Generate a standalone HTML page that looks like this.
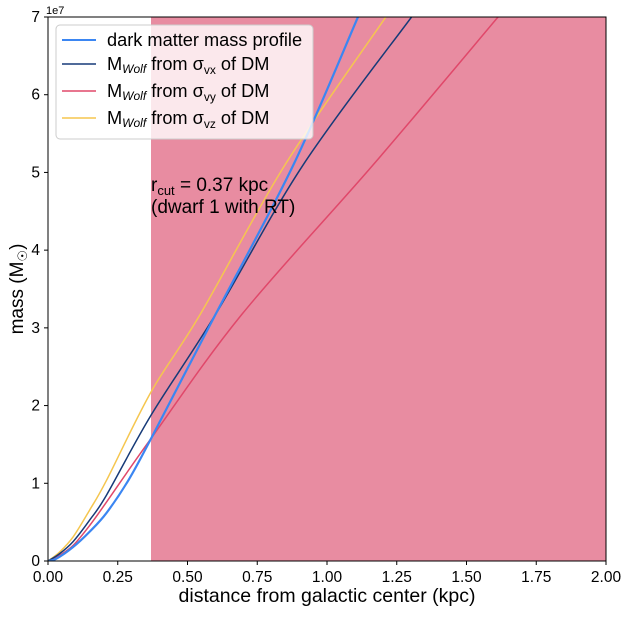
<!DOCTYPE html>
<html><head><meta charset="utf-8"><style>
body{margin:0;background:#fff;font-family:"Liberation Sans",sans-serif}
svg text{font-family:"Liberation Sans","DejaVu Sans",sans-serif}
</style></head><body>
<svg id="chart" width="629" height="612">
<rect x="151" y="17" width="455" height="544" fill="#e88ca1"/>
<g id="lines"></g>
<rect x="48" y="17" width="558" height="544" fill="none" stroke="#000" stroke-width="1"/>
<g id="ticks"></g>
<text x="46" y="14" font-size="11">1e7</text>
<text x="327" y="602" font-size="19.5" text-anchor="middle">distance from galactic center (kpc)</text>
<text transform="translate(23,289) rotate(-90)" font-size="19" text-anchor="middle">mass (M<tspan font-size="13" dy="4">☉</tspan><tspan dy="-4">)</tspan></text>
<text x="151" y="191" font-size="19">r<tspan font-size="13" dy="4">cut</tspan><tspan dy="-4"> = 0.37 kpc</tspan></text>
<text x="151" y="213" font-size="19">(dwarf 1 with RT)</text>
<g>
<rect x="56" y="25" width="257" height="114" rx="4" fill="#fff" fill-opacity="0.8" stroke="#ccc"/>
<line x1="62" y1="40" x2="96" y2="40" stroke="#3b86f2" stroke-width="2"/>
<text x="107" y="46" font-size="18.2">dark matter mass profile</text>
<line x1="62" y1="64" x2="96" y2="64" stroke="#163a78" stroke-width="1.5"/>
<text x="107" y="70" font-size="18.2">M<tspan font-size="12" dy="3" font-style="italic">Wolf</tspan><tspan dy="-3"> from σ</tspan><tspan font-size="12" dy="4">vx</tspan><tspan dy="-4"> of DM</tspan></text>
<line x1="62" y1="91" x2="96" y2="91" stroke="#e0486a" stroke-width="1.5"/>
<text x="107" y="97" font-size="18.2">M<tspan font-size="12" dy="3" font-style="italic">Wolf</tspan><tspan dy="-3"> from σ</tspan><tspan font-size="12" dy="4">vy</tspan><tspan dy="-4"> of DM</tspan></text>
<line x1="62" y1="118" x2="96" y2="118" stroke="#f5c64f" stroke-width="1.5"/>
<text x="107" y="124" font-size="18.2">M<tspan font-size="12" dy="3" font-style="italic">Wolf</tspan><tspan dy="-3"> from σ</tspan><tspan font-size="12" dy="4">vz</tspan><tspan dy="-4"> of DM</tspan></text>
</g>
</svg>
<script>
const xTicks=[0,0.25,0.5,0.75,1.0,1.25,1.5,1.75,2.0];
const xTickLabels=["0.00","0.25","0.50","0.75","1.00","1.25","1.50","1.75","2.00"];
const yTicks=[0,1,2,3,4,5,6,7];
const xDM=[0,0.03,0.09,0.15,0.21,0.29,0.37,0.6,0.88,1.111];
const yDM=[0,0.03,0.18,0.38,0.62,1.05,1.58,3.17,5.10,7.0];
const xVx=[0,0.04,0.09,0.15,0.21,0.37,0.6,0.915,1.303];
const yVx=[0,0.09,0.25,0.53,0.85,1.88,3.17,5.10,7.0];
const xVy=[0,0.04,0.09,0.15,0.21,0.37,0.694,1.166,1.613];
const yVy=[0,0.07,0.2,0.46,0.76,1.58,3.17,5.10,7.0];
const xVz=[0,0.04,0.09,0.15,0.21,0.37,0.545,0.85,1.211];
const yVz=[0,0.11,0.31,0.66,1.04,2.18,3.17,5.10,7.0];
const X=v=>48+v/2*558, Y=v=>561-v/7*544;
const NS="http://www.w3.org/2000/svg";
const lines=document.getElementById('lines');
function draw(xs,ys,color,w,name){
 const P=xs.map((x,i)=>[X(x),Y(ys[i])]);
 let d='M'+P[0][0]+','+P[0][1];
 for(let i=0;i<P.length-1;i++){
  const p0=P[Math.max(i-1,0)],p1=P[i],p2=P[i+1],p3=P[Math.min(i+2,P.length-1)];
  const c1=[p1[0]+(p2[0]-p0[0])/6,p1[1]+(p2[1]-p0[1])/6];
  const c2=[p2[0]-(p3[0]-p1[0])/6,p2[1]-(p3[1]-p1[1])/6];
  d+=' C'+c1.join(',')+' '+c2.join(',')+' '+p2.join(',');
 }
 const p=document.createElementNS(NS,'path');
 p.setAttribute('d',d);
 p.setAttribute('fill','none');p.setAttribute('stroke',color);p.setAttribute('stroke-width',w);
 p.setAttribute('clip-path','url(#clip)');
 
 
 lines.appendChild(p);
}
const defs=document.createElementNS(NS,'defs');
defs.innerHTML='<clipPath id="clip"><rect x="48" y="17" width="558" height="544"/></clipPath>';
document.getElementById('chart').prepend(defs);
draw(xVz,yVz,'#f5c64f',1.5,'line-wolf-vz');
draw(xVy,yVy,'#e0486a',1.5,'line-wolf-vy');
draw(xVx,yVx,'#163a78',1.5,'line-wolf-vx');
draw(xDM,yDM,'#3b86f2',2.2,'line-dm-profile');
const t=document.getElementById('ticks');
xTicks.forEach((v,i)=>{
 const l=document.createElementNS(NS,'line');
 l.setAttribute('x1',X(v));l.setAttribute('x2',X(v));l.setAttribute('y1',561);l.setAttribute('y2',565);l.setAttribute('stroke','#000');
 
 
 t.appendChild(l);
 const s=document.createElementNS(NS,'text');
 s.setAttribute('x',X(v));s.setAttribute('y',582);s.setAttribute('font-size','15.5');s.setAttribute('text-anchor','middle');
 s.textContent=xTickLabels[i];
 
 
 t.appendChild(s);
});
yTicks.forEach(v=>{
 const l=document.createElementNS(NS,'line');
 l.setAttribute('x1',44);l.setAttribute('x2',48);l.setAttribute('y1',Y(v));l.setAttribute('y2',Y(v));l.setAttribute('stroke','#000');
 
 
 t.appendChild(l);
 const s=document.createElementNS(NS,'text');
 s.setAttribute('x',40);s.setAttribute('y',Y(v)+5);s.setAttribute('font-size','15.5');s.setAttribute('text-anchor','end');
 s.textContent=v;
 
 
 t.appendChild(s);
});
</script>
</body></html>
